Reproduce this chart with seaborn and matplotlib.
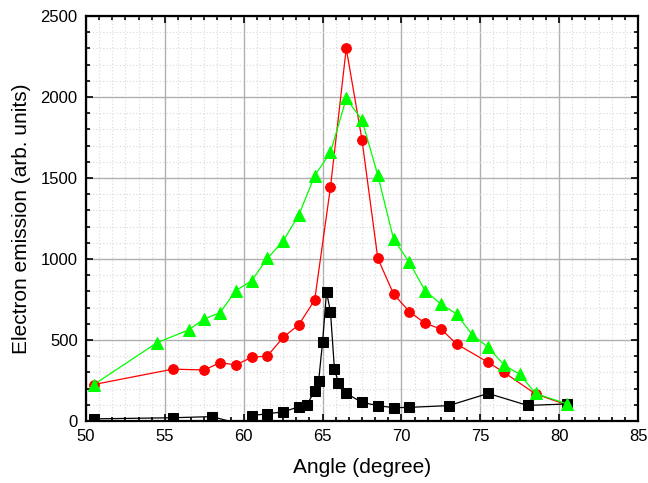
import numpy as np
import pandas as pd
import seaborn as sns
import matplotlib
matplotlib.use("Agg")
import matplotlib.pyplot as plt
from matplotlib.ticker import MultipleLocator, AutoMinorLocator

# data
black_x = [50.5, 55.5, 58, 60, 60.5, 61.5, 62.5, 63.5, 64, 64.5, 64.75, 65, 65.25, 65.5,
           65.75, 66, 66.5, 67.5, 68.5, 69.5, 70.5, 73, 75.5, 78, 80.5]
black_y = [13, 20, 27, -25, 33, 45, 56, 88, 99, 185, 247, 488, 796, 675,
           323, 237, 170, 115, 95, 82, 84, 95, 170, 96, 105]

red_x = [50.5, 55.5, 57.5, 58.5, 59.5, 60.5, 61.5, 62.5, 63.5, 64.5, 65.5, 66.5, 67.5,
         68.5, 69.5, 70.5, 71.5, 72.5, 73.5, 75.5, 76.5, 78.5, 80.5]
red_y = [225, 320, 315, 360, 346, 393, 401, 516, 595, 747, 1443, 2300, 1735,
         1004, 784, 675, 603, 568, 475, 362, 300, 167, 99]

green_x = [50.5, 54.5, 56.5, 57.5, 58.5, 59.5, 60.5, 61.5, 62.5, 63.5, 64.5, 65.5, 66.5,
           67.5, 68.5, 69.5, 70.5, 71.5, 72.5, 73.5, 74.5, 75.5, 76.5, 77.5, 78.5, 80.5]
green_y = [225, 483, 562, 630, 669, 804, 866, 1004, 1111, 1272, 1515, 1658, 1991,
           1858, 1518, 1123, 979, 804, 722, 660, 531, 455, 346, 288, 170, 105]

sns.set_style("ticks")
plt.rcParams['font.family'] = ['Liberation Sans', 'DejaVu Sans']
plt.rcParams['text.color'] = 'black'
plt.rcParams['axes.labelcolor'] = 'black'
plt.rcParams['axes.edgecolor'] = 'black'

fig = plt.figure(figsize=(6.48, 4.83), dpi=100)
ax = fig.add_axes([0.1327, 0.1284, 0.8519, 0.8385])

# red at the bottom, green on top (as in the original)
sns.lineplot(x=red_x, y=red_y, ax=ax, color="#ff0000", lw=0.9, marker="o",
             markersize=7, markeredgecolor="#ff0000", sort=False, zorder=3)
sns.lineplot(x=black_x, y=black_y, ax=ax, color="black", lw=0.9, marker="s",
             markersize=6.5, markeredgecolor="black", sort=False, zorder=4)
sns.lineplot(x=green_x, y=green_y, ax=ax, color="#00ff00", lw=0.9, marker="^",
             markersize=8.5, markeredgecolor="#00ff00", sort=False, zorder=5)

ax.set_xlim(50, 85)
ax.set_ylim(0, 2500)
ax.xaxis.set_major_locator(MultipleLocator(5))
ax.xaxis.set_minor_locator(AutoMinorLocator(6))
ax.yaxis.set_major_locator(MultipleLocator(500))
ax.yaxis.set_minor_locator(AutoMinorLocator(5))

ax.grid(which="major", color="#b0b0b0", lw=1.0, ls="-", zorder=0)
ax.grid(which="minor", color="#d8d8d8", lw=0.8, ls=(0, (1, 2)), zorder=0)
ax.set_axisbelow(True)

for s in ax.spines.values():
    s.set_linewidth(1.6)
    s.set_visible(True)
ax.tick_params(which="both", direction="in", top=True, right=True, width=1.2,
               labelsize=12, colors="black")
ax.tick_params(which="major", length=5, pad=6)
ax.tick_params(which="minor", length=3)

ax.set_xlabel("Angle (degree)", fontsize=15, labelpad=10)
ax.set_ylabel("Electron emission (arb. units)", fontsize=15, labelpad=7)

fig.savefig("out.png", dpi=100)
